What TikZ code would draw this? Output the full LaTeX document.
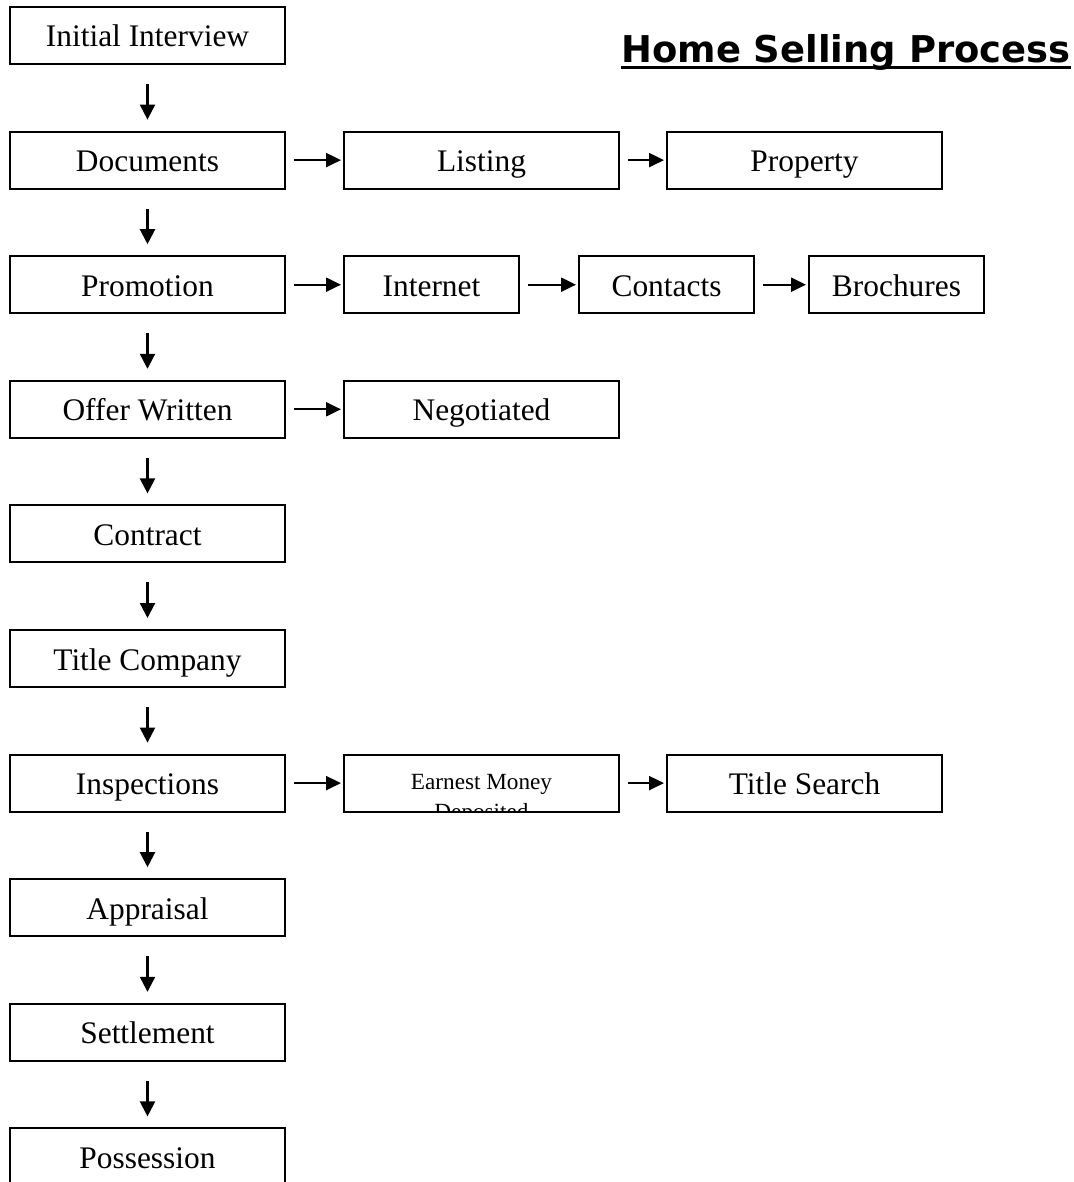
\documentclass[tikz,border=0pt]{standalone}
\usepackage{fontspec}
\setmainfont{Liberation Serif}
\newfontfamily\headfont{DejaVu Sans}
\usetikzlibrary{arrows.meta,positioning}
\tikzset{
  stepbox/.style={rectangle,draw=black,line width=1pt,fill=white,minimum width=137.5pt,minimum height=28.5pt,inner sep=2pt,text height=14pt,text depth=2.5pt,font=\fontsize{15.7}{18}\selectfont},
  smallbox/.style={stepbox,minimum width=87.5pt},
  vflow/.style={-{Triangle[length=7.5pt,width=7.5pt]},line width=1.1pt,shorten <=9.5pt,shorten >=5.5pt},
  hflow/.style={-{Triangle[length=7.5pt,width=7pt]},line width=1.1pt,shorten <=4pt,shorten >=1pt},
  heading/.style={font=\headfont\bfseries\fontsize{18.45}{22}\selectfont,inner sep=0pt,anchor=base west}
}

\begin{document}
\begin{tikzpicture}[node distance=32.8pt]
  \useasboundingbox (-73.75pt,17.75pt) rectangle (462.75pt,-573.25pt);

  % main column
  \node[stepbox] (interview) at (0,0) {Initial Interview};
  \node[stepbox,below=of interview] (documents) {Documents};
  \node[stepbox,below=of documents] (promotion) {Promotion};
  \node[stepbox,below=of promotion] (offer) {Offer Written};
  \node[stepbox,below=of offer] (contract) {Contract};
  \node[stepbox,below=of contract] (titleco) {Title Company};
  \node[stepbox,below=of titleco] (inspections) {Inspections};
  \node[stepbox,below=of inspections] (appraisal) {Appraisal};
  \node[stepbox,below=of appraisal] (settlement) {Settlement};
  \node[stepbox,below=of settlement] (possession) {Possession};
  \foreach \a/\b in {interview/documents,documents/promotion,promotion/offer,offer/contract,
    contract/titleco,titleco/inspections,inspections/appraisal,appraisal/settlement,settlement/possession}
    \draw[vflow] (\a) -- (\b);

  % side branches
  \node[stepbox,right=28.5pt of documents] (listing) {Listing};
  \node[stepbox,right=23pt of listing] (property) {Property};
  \draw[hflow] (documents) -- (listing);
  \draw[hflow] (listing) -- (property);

  \node[smallbox,right=28.5pt of promotion] (internet) {Internet};
  \node[smallbox,right=29pt of internet] (contacts) {Contacts};
  \node[smallbox,right=26.5pt of contacts] (brochures) {Brochures};
  \draw[hflow] (promotion) -- (internet);
  \draw[hflow] (internet) -- (contacts);
  \draw[hflow] (contacts) -- (brochures);

  \node[stepbox,right=28.5pt of offer] (negotiated) {Negotiated};
  \draw[hflow] (offer) -- (negotiated);

  \node[stepbox,right=28.5pt of inspections] (earnest) {};
  \node[stepbox,right=23pt of earnest] (search) {Title Search};
  \begin{scope}
    \clip (earnest.south west) rectangle (earnest.north east);
    \node[anchor=north,align=center,inner sep=0pt,font=\fontsize{11.6}{15}\selectfont] (deposit)
      at ([yshift=-10pt]earnest.north) {Earnest Money\\Deposited};
  \end{scope}
  \draw[hflow] (inspections) -- (earnest);
  \draw[hflow] (earnest) -- (search);

  % heading
  \node[heading] (title) at (236.75pt,-13.75pt) {Home Selling Process};
  \draw[line width=1.5pt] ([yshift=-2.5pt]title.base west) -- ([yshift=-2.5pt]title.base east);
\end{tikzpicture}
\end{document}
